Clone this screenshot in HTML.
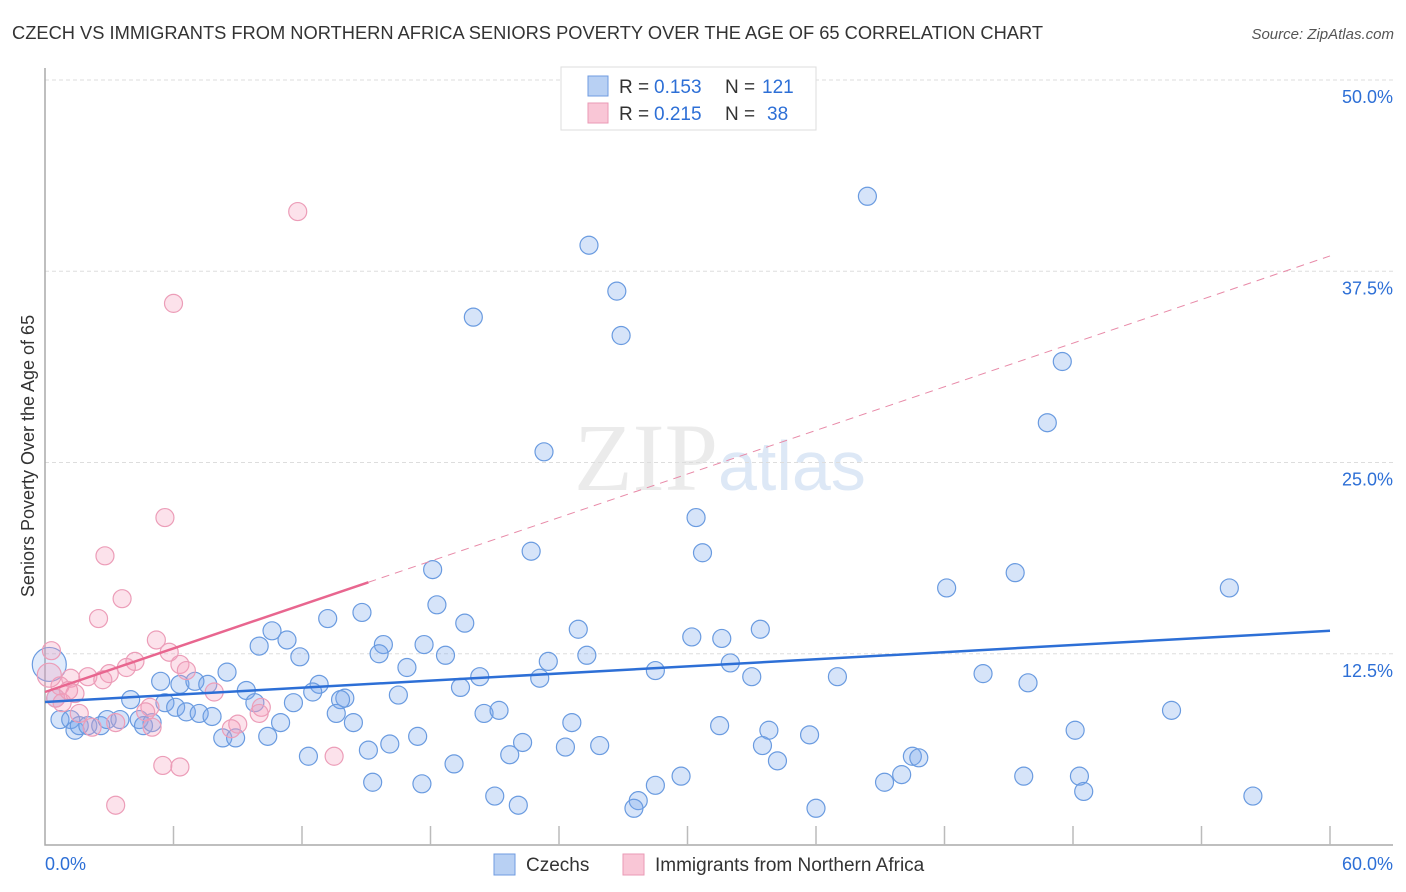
<!DOCTYPE html>
<html><head><meta charset="utf-8"><style>
body{margin:0;background:#fff;font-family:"Liberation Sans",sans-serif;}
svg{display:block}
</style></head><body>
<svg id="chart" width="1406" height="892" xmlns="http://www.w3.org/2000/svg">
<text x="12" y="39" font-size="18.3" fill="#333" font-family="Liberation Sans, sans-serif">CZECH VS IMMIGRANTS FROM NORTHERN AFRICA SENIORS POVERTY OVER THE AGE OF 65 CORRELATION CHART</text>
<text x="1394" y="39" font-size="15" fill="#555" font-style="italic" text-anchor="end">Source: ZipAtlas.com</text>
<text x="718" y="490" font-size="96" fill="#ebebeb" text-anchor="end" font-family="Liberation Serif, serif">ZIP</text>
<text x="718" y="490" font-size="70" fill="#dde8f6">atlas</text>
<g id="grid"></g>
<g id="marks"></g>
<text transform="translate(34,456) rotate(-90)" font-size="18" fill="#333" text-anchor="middle">Seniors Poverty Over the Age of 65</text>
<g>
<rect x="561" y="67" width="255" height="63" fill="#fff" stroke="#ddd"/>
<rect x="588" y="76" width="20" height="20" fill="#b8d0f3" stroke="#6f9be0"/>
<rect x="588" y="103" width="20" height="20" fill="#f9c6d6" stroke="#ea9ab5"/>
<text x="619" y="93" font-size="19" fill="#333">R =</text>
<text x="654" y="93" font-size="19" fill="#2d6fd6">0.153</text>
<text x="725" y="93" font-size="19" fill="#333">N =</text>
<text x="762" y="93" font-size="19" fill="#2d6fd6">121</text>
<text x="619" y="120" font-size="19" fill="#333">R =</text>
<text x="654" y="120" font-size="19" fill="#2d6fd6">0.215</text>
<text x="725" y="120" font-size="19" fill="#333">N =</text>
<text x="767" y="120" font-size="19" fill="#2d6fd6">38</text>
</g>
<g>
<rect x="494" y="854" width="21" height="21" fill="#b8d0f3" stroke="#6f9be0"/>
<text x="526" y="871" font-size="19" fill="#333">Czechs</text>
<rect x="623" y="854" width="21" height="21" fill="#f9c6d6" stroke="#ea9ab5"/>
<text x="655" y="871" font-size="19" fill="#333">Immigrants from Northern Africa</text>
</g>
</svg>
<script>
const blueX=[38.4,25.4,26.7,20.0,26.9,47.5,46.8,23.3,30.4,22.7,30.7,18.1,42.1,45.3,55.3,18.3,14.8,13.2,19.6,10.6,11.3,24.9,30.2,31.6,33.4,10.0,15.8,17.7,15.6,11.9,18.7,25.3,23.5,32.0,16.9,8.5,28.5,20.3,23.1,33.0,37.0,43.8,45.9,5.4,6.3,7.0,7.6,12.8,19.4,9.4,11.6,12.5,14.0,13.8,16.5,4.0,5.6,6.1,6.6,7.2,7.8,9.8,13.6,20.5,21.2,52.6,0.5,0.7,1.2,1.4,1.6,2.0,2.6,2.9,3.5,4.4,4.6,5.0,11.0,14.4,24.6,31.5,33.8,48.1,8.3,8.9,10.4,17.4,16.1,22.3,21.7,24.3,25.9,33.5,35.7,12.3,15.1,19.1,34.2,40.5,40.8,15.3,17.6,28.5,29.7,39.2,40.0,45.7,48.3,48.5,21.0,22.1,27.7,27.5,36.0,56.4,0.2];
const blueY=[42.4,39.2,36.2,34.5,33.3,31.6,27.6,25.7,21.4,19.2,19.1,18.0,16.8,17.8,16.8,15.7,15.2,14.8,14.5,14.0,13.4,14.1,13.6,13.5,14.1,13.0,13.1,13.1,12.5,12.3,12.4,12.4,12.0,11.9,11.6,11.3,11.4,11.0,10.9,11.0,11.0,11.2,10.6,10.7,10.5,10.7,10.5,10.5,10.3,10.1,9.3,10.0,9.6,9.5,9.8,9.5,9.3,9.0,8.7,8.6,8.4,9.3,8.6,8.6,8.8,8.8,9.6,8.2,8.2,7.5,7.8,7.8,7.8,8.2,8.2,8.2,7.8,8.0,8.0,8.0,8.0,7.8,7.5,7.5,7.0,7.0,7.1,7.1,6.6,6.7,5.9,6.4,6.5,6.5,7.2,5.8,6.2,5.3,5.5,5.8,5.7,4.1,4.0,3.9,4.5,4.1,4.6,4.5,4.5,3.5,3.2,2.6,2.9,2.4,2.4,3.2,11.8];
const pinkX=[11.8,6.0,5.6,2.8,3.6,2.5,5.2,5.8,4.2,0.3,6.3,6.6,3.8,3.0,2.0,1.2,2.7,0.7,1.4,7.9,0.2,0.5,0.8,1.6,4.9,4.7,10.1,10.0,9.0,8.7,3.3,2.2,5.0,13.5,5.5,6.3,3.3,1.1];
const pinkY=[41.4,35.4,21.4,18.9,16.1,14.8,13.4,12.6,12.0,12.7,11.8,11.4,11.6,11.2,11.0,10.9,10.8,10.4,9.9,10.0,11.1,9.6,9.3,8.6,9.0,8.7,9.0,8.6,7.9,7.6,8.0,7.7,7.7,5.8,5.2,5.1,2.6,10.1];
const blueTrend=[9.35,14.0];
const pinkTrend=[10.0,38.5];
const pinkSolidEnd=15.1;
const yTicks=[12.5,25,37.5,50];
const yTickLabels=["12.5%","25.0%","37.5%","50.0%"];
const xTicks=[0,6,12,18,24,30,36,42,48,54,60];

const NS="http://www.w3.org/2000/svg";
const X=v=>45+v/60*1285;
const Y=v=>845-v/50*765;
function mk(tag,attrs,parent){const e=document.createElementNS(NS,tag);for(const k in attrs)e.setAttribute(k,attrs[k]);parent.appendChild(e);return e;}
const grid=document.getElementById('grid'),marks=document.getElementById('marks');
yTicks.forEach((t,i)=>{
 const l=mk('line',{x1:45,x2:1393,y1:Y(t),y2:Y(t),stroke:'#ddd','stroke-dasharray':'4,3'},grid);
 
 
 const tx=mk('text',{x:1393,y:Y(t)+23,'font-size':18,fill:'#2d6fd6','text-anchor':'end'},grid);
 tx.textContent=yTickLabels[i];
 
 
});
const ax=mk('path',{d:'M45,68 L45,845 L1393,845',fill:'none',stroke:'#aaa','stroke-width':1.5},grid);


xTicks.forEach(t=>{if(t===0)return;
 const l=mk('line',{x1:X(t),x2:X(t),y1:826,y2:845,stroke:'#bbb','stroke-width':1.5},grid);
 
 
});
let t0=mk('text',{x:45,y:870,'font-size':18,fill:'#2d6fd6'},grid);t0.textContent='0.0%';


let t1=mk('text',{x:1393,y:870,'font-size':18,fill:'#2d6fd6','text-anchor':'end'},grid);t1.textContent='60.0%';



blueX.forEach((x,i)=>{
 const big=i===blueX.length-1;
 const c=mk('circle',{cx:X(x),cy:Y(blueY[i]),r:big?17:9,fill:big?'rgba(120,165,235,0.22)':'rgba(120,165,235,0.3)',stroke:'#6a9be0','stroke-width':1.2},marks);
 
 
});
pinkX.forEach((x,i)=>{
 const big=i===20;
 const c=mk('circle',{cx:X(x),cy:Y(pinkY[i]),r:big?12:9,fill:'rgba(245,160,190,0.3)',stroke:'#ec9db8','stroke-width':1.2},marks);
 
 
});
const pv=x=>pinkTrend[0]+(pinkTrend[1]-pinkTrend[0])*x/60;
let pd=mk('line',{x1:X(pinkSolidEnd),y1:Y(pv(pinkSolidEnd)),x2:X(60),y2:Y(pinkTrend[1]),stroke:'#e88aa8','stroke-width':1,'stroke-dasharray':'8,6'},marks);


let ps=mk('line',{x1:X(0),y1:Y(pinkTrend[0]),x2:X(pinkSolidEnd),y2:Y(pv(pinkSolidEnd)),stroke:'#e8668f','stroke-width':2.5},marks);


let bl=mk('line',{x1:X(0),y1:Y(blueTrend[0]),x2:X(60),y2:Y(blueTrend[1]),stroke:'#2d6fd6','stroke-width':2.5},marks);


</script>
</body></html>
